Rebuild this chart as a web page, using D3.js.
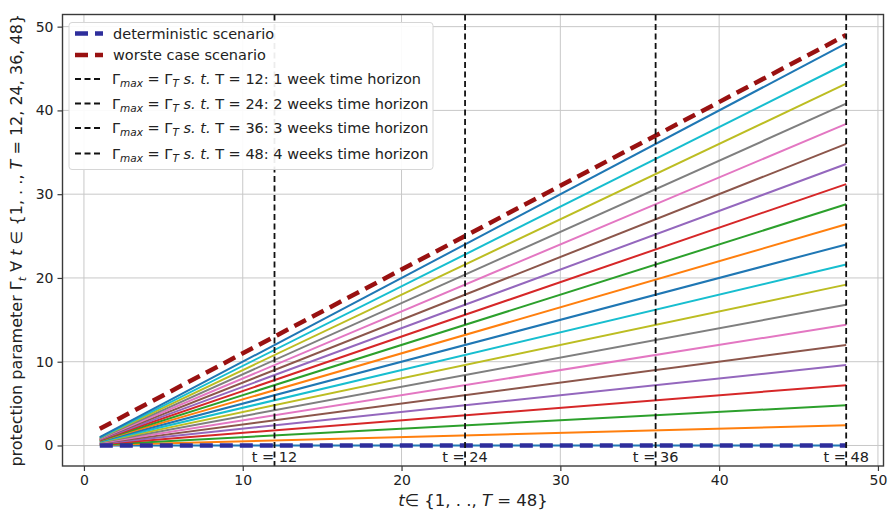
<!DOCTYPE html>
<html>
<head>
<meta charset="utf-8">
<script src="https://cdn.jsdelivr.net/npm/d3@7"></script>
<style>
  body { margin: 0; background: #fff; }
  text { font-family: "DejaVu Sans", sans-serif; fill: #222; }
</style>
</head>
<body>
<div id="chart"></div>
<script>
// data
var tRange = [1, 48];                          // every line runs from t=1 to t=48
var startVals = [0, 0.05, 0.1, 0.15, 0.2, 0.25, 0.3, 0.35, 0.4, 0.45, 0.5,
                 0.55, 0.6, 0.65, 0.7, 0.75, 0.8, 0.85, 0.9, 0.95, 1];
var endVals = [0, 2.4, 4.8, 7.2, 9.6, 12, 14.4, 16.8, 19.2, 21.6, 24,
               26.4, 28.8, 31.2, 33.6, 36, 38.4, 40.8, 43.2, 45.6, 48];
var worstCase = [2, 49];
var deterministic = [0, 0];
var horizons = [12, 24, 36, 48];
var horizonText = ["1 week", "2 weeks", "3 weeks", "4 weeks"];
var xTicks = [0, 10, 20, 30, 40, 50];
var yTicks = [0, 10, 20, 30, 40, 50];

var width = 890, height = 515;
var pLeft = 62.5, pRight = 883.5, pTop = 14.5, pBottom = 466;

var svg = d3.select("#chart").append("svg")
    .attr("width", width)
    .attr("height", height);

var x = d3.scaleLinear().domain([-1.35, 50.35]).range([pLeft, pRight]);
var y = d3.scaleLinear().domain([-2.45, 51.45]).range([pBottom, pTop]);
var color = d3.scaleOrdinal(d3.schemeCategory10);

var line = d3.line().x(function(d){ return x(d[0]); }).y(function(d){ return y(d[1]); });

// grid
svg.append("g").selectAll("line").data(xTicks).enter().append("line")
    .attr("x1", function(d){ return x(d); }).attr("x2", function(d){ return x(d); })
    .attr("y1", pTop).attr("y2", pBottom)
    .attr("stroke", "#c8c8c8").attr("stroke-width", 1);
svg.append("g").selectAll("line").data(yTicks).enter().append("line")
    .attr("y1", function(d){ return y(d); }).attr("y2", function(d){ return y(d); })
    .attr("x1", pLeft).attr("x2", pRight)
    .attr("stroke", "#c8c8c8").attr("stroke-width", 1);

// one line per share of the horizon
startVals.forEach(function(s, i){
  svg.append("path")
      .datum([[tRange[0], s], [tRange[1], endVals[i]]])
      .attr("d", line)
      .attr("fill", "none")
      .attr("stroke", color(i % 10))
      .attr("stroke-width", 2);
});

// deterministic & worst case
svg.append("path")
    .datum([[tRange[0], deterministic[0]], [tRange[1], deterministic[1]]])
    .attr("d", line).attr("fill", "none")
    .attr("stroke", "#2e2e9c").attr("stroke-width", 4.5)
    .attr("stroke-dasharray", "13,7");
svg.append("path")
    .datum([[tRange[0], worstCase[0]], [tRange[1], worstCase[1]]])
    .attr("d", line).attr("fill", "none")
    .attr("stroke", "#991111").attr("stroke-width", 4.5)
    .attr("stroke-dasharray", "13,7");

// horizon labels and vertical lines
horizons.forEach(function(h){
  svg.append("text")
      .attr("x", x(h)).attr("y", y(-2))
      .attr("text-anchor", "middle")
      .style("font-size", "14.5px")
      .text("t = " + h);
  svg.append("line")
      .attr("x1", x(h)).attr("x2", x(h))
      .attr("y1", pTop).attr("y2", pBottom)
      .attr("stroke", "#111").attr("stroke-width", 1.8)
      .attr("stroke-dasharray", "6,3.5");
});

// frame
svg.append("rect")
    .attr("x", pLeft).attr("y", pTop)
    .attr("width", pRight - pLeft).attr("height", pBottom - pTop)
    .attr("fill", "none").attr("stroke", "#3a3a3a").attr("stroke-width", 1.4);

// axes
var xAxis = svg.append("g").attr("transform", "translate(0," + pBottom + ")")
    .call(d3.axisBottom(x).tickValues(xTicks).tickSize(5).tickPadding(4));
var yAxis = svg.append("g").attr("transform", "translate(" + pLeft + ",0)")
    .call(d3.axisLeft(y).tickValues(yTicks).tickSize(5).tickPadding(4));
[xAxis, yAxis].forEach(function(a){
  a.select(".domain").remove();
  a.selectAll(".tick line").attr("stroke", "#3a3a3a").attr("stroke-width", 1.2);
  a.selectAll(".tick text").style("font-size", "14px")
      .style("font-family", "DejaVu Sans, sans-serif").attr("fill", "#333");
});

// axis labels
var xl = svg.append("text")
    .attr("x", (pLeft + pRight) / 2).attr("y", 506)
    .attr("text-anchor", "middle")
    .style("font-size", "16.5px");
xl.append("tspan").style("font-style", "italic").text("t");
xl.append("tspan").text("\u2208 {1, . ., ");
xl.append("tspan").style("font-style", "italic").text("T");
xl.append("tspan").text(" = 48}");

var yl = svg.append("text")
    .attr("transform", "translate(22," + ((pTop + pBottom) / 2) + ") rotate(-90)")
    .attr("text-anchor", "middle")
    .style("font-size", "16px");
yl.append("tspan").text("protection parameter \u0393");
yl.append("tspan").style("font-style", "italic").style("font-size", "11px").attr("dy", 4).text("t");
yl.append("tspan").attr("dy", -4).text(" \u2200 ");
yl.append("tspan").style("font-style", "italic").text("t");
yl.append("tspan").text(" \u2208 {1, . ., ");
yl.append("tspan").style("font-style", "italic").text("T");
yl.append("tspan").text(" = 12, 24, 36, 48}");

// legend
var lg = svg.append("g");
lg.append("rect")
    .attr("x", 69).attr("y", 22.5).attr("width", 364).attr("height", 147)
    .attr("rx", 3)
    .attr("fill", "#fff").attr("fill-opacity", 0.92)
    .attr("stroke", "#d6d6d6").attr("stroke-width", 1);

var rowsY = [33.5, 55, 79, 103.5, 128, 153.5];
var hx1 = 75, hx2 = 103, tx = 113;

lg.append("line").attr("x1", hx1).attr("x2", hx2).attr("y1", rowsY[0]).attr("y2", rowsY[0])
    .attr("stroke", "#2e2e9c").attr("stroke-width", 4.5).attr("stroke-dasharray", "13,7");
lg.append("text").attr("x", tx).attr("y", rowsY[0] + 5).style("font-size", "14.5px")
    .text("deterministic scenario");
lg.append("line").attr("x1", hx1).attr("x2", hx2).attr("y1", rowsY[1]).attr("y2", rowsY[1])
    .attr("stroke", "#991111").attr("stroke-width", 4.5).attr("stroke-dasharray", "13,7");
lg.append("text").attr("x", tx).attr("y", rowsY[1] + 5).style("font-size", "14.5px")
    .text("worste case scenario");

horizons.forEach(function(h, i){
  var ry = rowsY[i + 2];
  lg.append("line").attr("x1", hx1).attr("x2", hx2).attr("y1", ry).attr("y2", ry)
      .attr("stroke", "#111").attr("stroke-width", 1.8).attr("stroke-dasharray", "6,3.5");
  var t = lg.append("text").attr("x", tx - 1).attr("y", ry + 5).style("font-size", "14.5px");
  t.append("tspan").text("\u0393");
  t.append("tspan").style("font-style", "italic").style("font-size", "10.5px").attr("dy", 3).text("max");
  t.append("tspan").attr("dy", -3).text(" = \u0393");
  t.append("tspan").style("font-style", "italic").style("font-size", "10.5px").attr("dy", 3).text("T");
  t.append("tspan").attr("dy", -3).style("font-style", "italic").text(" s. t.");
  t.append("tspan").text("  T = " + h + ": " + horizonText[i] + " time horizon");
});
</script>
</body>
</html>
